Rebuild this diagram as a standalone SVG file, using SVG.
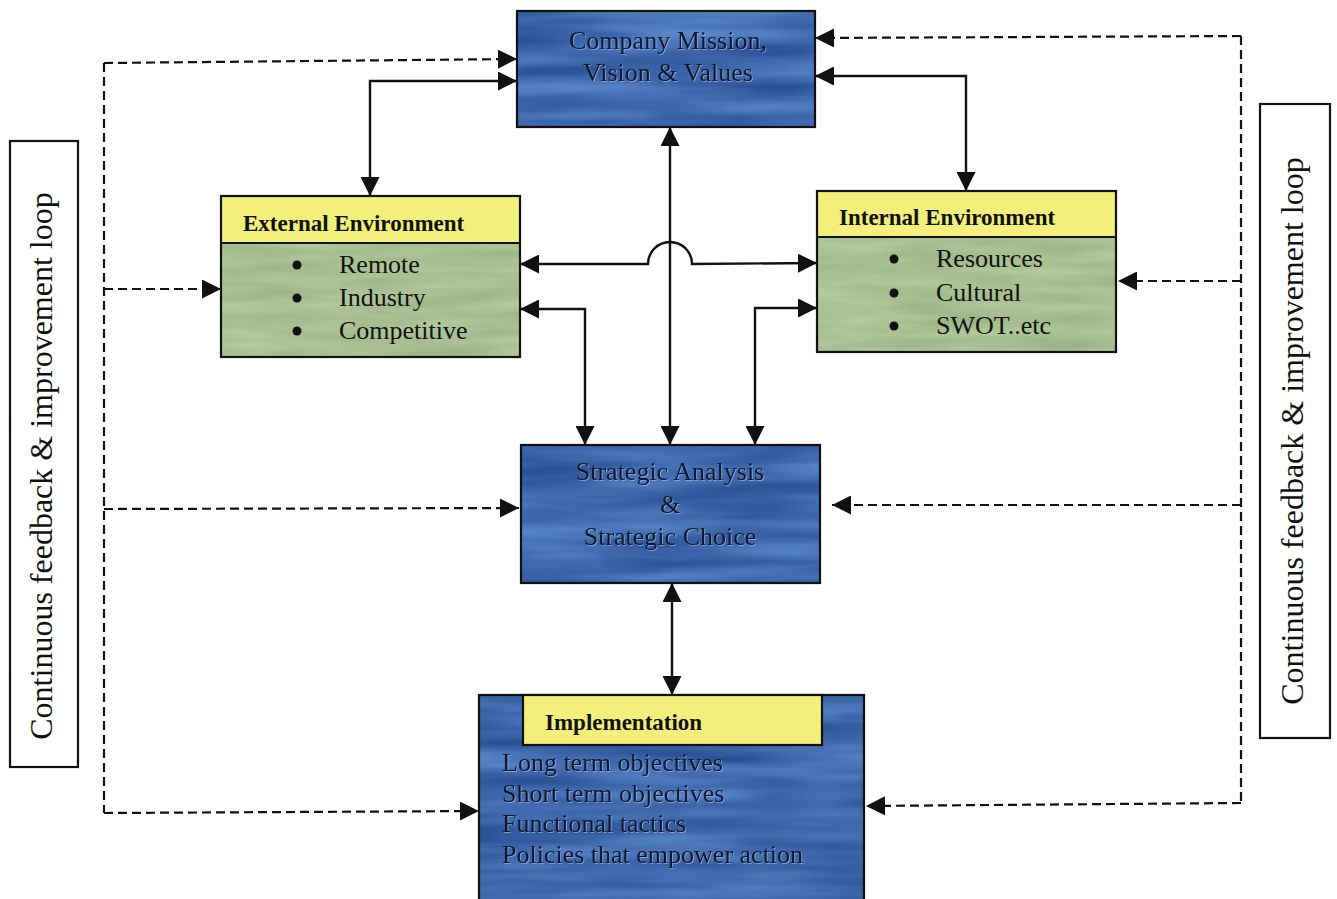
<svg xmlns="http://www.w3.org/2000/svg" width="1337" height="899" viewBox="0 0 1337 899">
  <style>
    .serif { font-family: "Liberation Serif", "Times New Roman", serif; }
    .title { font-size: 26px; fill: #0f1830; text-anchor: middle; }
    .item { font-size: 26px; fill: #111; }
    .bluetxt { font-size: 26px; fill: #0f1830; }
    .head { font-size: 23px; font-weight: bold; fill: #111; }
    .side { font-size: 32px; fill: #111; text-anchor: middle; }
    .edge { fill: none; stroke: #111; stroke-width: 2.2; }
    .solid { fill: none; stroke: #111; stroke-width: 2.4; }
    .dash { fill: none; stroke: #111; stroke-width: 2.2; stroke-dasharray: 9 5; }
    .bullet { fill: #111; }
  </style>
  <defs>
    <marker id="arrow" viewBox="0 0 10 10" refX="10" refY="5" markerWidth="19" markerHeight="19" markerUnits="userSpaceOnUse" orient="auto-start-reverse">
      <path d="M0,0 L10,5 L0,10 z" fill="#111"/>
    </marker>
    <!-- streaky watercolour blue -->
    <filter id="blueTex" x="0" y="0" width="1" height="1" color-interpolation-filters="sRGB">
      <feTurbulence type="fractalNoise" baseFrequency="0.005 0.05" numOctaves="3" seed="4" result="n"/>
      <feColorMatrix in="n" type="matrix" values="0.28 0 0 0 0.11  0.33 0 0 0 0.25  0.32 0 0 0 0.52  0 0 0 0 1" result="c"/>
      <feComposite in="c" in2="SourceGraphic" operator="in"/>
    </filter>
    <!-- grainy sage green -->
    <filter id="greenTex" x="0" y="0" width="1" height="1" color-interpolation-filters="sRGB">
      <feTurbulence type="fractalNoise" baseFrequency="0.01 0.08" numOctaves="3" seed="9" result="n"/>
      <feColorMatrix in="n" type="matrix" values="0.14 0 0 0 0.59  0.14 0 0 0 0.68  0.14 0 0 0 0.50  0 0 0 0 1" result="c"/>
      <feComposite in="c" in2="SourceGraphic" operator="in"/>
    </filter>
    <filter id="emboss" x="-5%" y="-20%" width="110%" height="140%" color-interpolation-filters="sRGB">
      <feDropShadow dx="1" dy="1" stdDeviation="0.4" flood-color="#9fb8e0" flood-opacity="0.7"/>
    </filter>
  </defs>

  <rect width="1337" height="899" fill="#ffffff"/>

  <!-- connectors -->
  <g id="connectors">
    <!-- solid two-way links -->
    <path class="solid" d="M370,196 L370,81 L517,81" marker-start="url(#arrow)" marker-end="url(#arrow)"/>
    <path class="solid" d="M966,191 L966,76 L815,76" marker-start="url(#arrow)" marker-end="url(#arrow)"/>
    <path class="solid" d="M670,127 L670,445" marker-start="url(#arrow)" marker-end="url(#arrow)"/>
    <path class="solid" d="M520,264 L648,264 A22,22 0 0 1 692,264 L817,263" marker-start="url(#arrow)" marker-end="url(#arrow)"/>
    <path class="solid" d="M520,309 L585,309 L585,445" marker-start="url(#arrow)" marker-end="url(#arrow)"/>
    <path class="solid" d="M817,308 L755,308 L755,445" marker-start="url(#arrow)" marker-end="url(#arrow)"/>
    <path class="solid" d="M672,583 L672,695" marker-start="url(#arrow)" marker-end="url(#arrow)"/>

    <!-- left feedback loop -->
    <path class="dash" d="M104,63 L104,813"/>
    <path class="dash" d="M104,63 L517,59" marker-end="url(#arrow)"/>
    <path class="dash" d="M104,289 L221,289" marker-end="url(#arrow)"/>
    <path class="dash" d="M104,509 L519,508" marker-end="url(#arrow)"/>
    <path class="dash" d="M104,813 L479,811" marker-end="url(#arrow)"/>

    <!-- right feedback loop -->
    <path class="dash" d="M1241,36 L1241,803"/>
    <path class="dash" d="M1241,36 L815,38" marker-end="url(#arrow)"/>
    <path class="dash" d="M1241,281 L1118,281" marker-end="url(#arrow)"/>
    <path class="dash" d="M1241,505 L832,505" marker-end="url(#arrow)"/>
    <path class="dash" d="M1241,803 L866,806" marker-end="url(#arrow)"/>
  </g>

  <!-- Company mission -->
  <g id="mission">
    <rect x="517" y="11" width="298" height="116" fill="#3d6aab" filter="url(#blueTex)"/>
    <rect x="517" y="11" width="298" height="116" class="edge"/>
    <g class="serif title" filter="url(#emboss)">
      <text x="668" y="49">Company Mission,</text>
      <text x="668" y="81">Vision &amp; Values</text>
    </g>
  </g>

  <!-- External environment -->
  <g id="external">
    <rect x="221" y="243" width="299" height="114" fill="#a8bf8e" filter="url(#greenTex)"/>
    <rect x="221" y="196" width="299" height="47" fill="#f2ef7a"/>
    <rect x="221" y="196" width="299" height="161" class="edge"/>
    <line x1="221" y1="243" x2="520" y2="243" class="edge"/>
    <text x="243" y="231" class="serif head">External Environment</text>
    <circle cx="297" cy="265" r="4.5" class="bullet"/>
    <circle cx="297" cy="298" r="4.5" class="bullet"/>
    <circle cx="297" cy="331" r="4.5" class="bullet"/>
    <text x="339" y="273" class="serif item">Remote</text>
    <text x="339" y="306" class="serif item">Industry</text>
    <text x="339" y="339" class="serif item">Competitive</text>
  </g>

  <!-- Internal environment -->
  <g id="internal">
    <rect x="817" y="237" width="299" height="115" fill="#a8bf8e" filter="url(#greenTex)"/>
    <rect x="817" y="191" width="299" height="46" fill="#f2ef7a"/>
    <rect x="817" y="191" width="299" height="161" class="edge"/>
    <line x1="817" y1="237" x2="1116" y2="237" class="edge"/>
    <text x="839" y="225" class="serif head">Internal Environment</text>
    <circle cx="894" cy="259" r="4.5" class="bullet"/>
    <circle cx="894" cy="293" r="4.5" class="bullet"/>
    <circle cx="894" cy="326" r="4.5" class="bullet"/>
    <text x="936" y="267" class="serif item">Resources</text>
    <text x="936" y="301" class="serif item">Cultural</text>
    <text x="936" y="334" class="serif item">SWOT..etc</text>
  </g>

  <!-- Strategic analysis and choice -->
  <g id="strategic">
    <rect x="521" y="445" width="299" height="138" fill="#3d6aab" filter="url(#blueTex)"/>
    <rect x="521" y="445" width="299" height="138" class="edge"/>
    <g class="serif title" filter="url(#emboss)">
      <text x="670" y="480">Strategic Analysis</text>
      <text x="670" y="513">&amp;</text>
      <text x="670" y="545">Strategic Choice</text>
    </g>
  </g>

  <!-- Implementation -->
  <g id="implementation">
    <rect x="479" y="695" width="385" height="210" fill="#3d6aab" filter="url(#blueTex)"/>
    <rect x="479" y="695" width="385" height="210" class="edge"/>
    <rect x="523" y="695" width="299" height="50" fill="#f2ef7a" stroke="#111" stroke-width="2.2"/>
    <text x="545" y="730" class="serif head">Implementation</text>
    <g class="serif bluetxt" filter="url(#emboss)">
      <text x="502" y="771">Long term objectives</text>
      <text x="502" y="802">Short term objectives</text>
      <text x="502" y="832">Functional tactics</text>
      <text x="502" y="863">Policies that empower action</text>
    </g>
  </g>

  <!-- Feedback loop labels -->
  <g id="loop-left">
    <rect x="10" y="141" width="68" height="626" fill="#fff" class="edge"/>
    <text class="serif side" transform="translate(52,466) rotate(-90)">Continuous feedback &amp; improvement loop</text>
  </g>
  <g id="loop-right">
    <rect x="1260" y="104" width="70" height="634" fill="#fff" class="edge"/>
    <text class="serif side" transform="translate(1303,431) rotate(-90)">Continuous feedback &amp; improvement loop</text>
  </g>
</svg>
